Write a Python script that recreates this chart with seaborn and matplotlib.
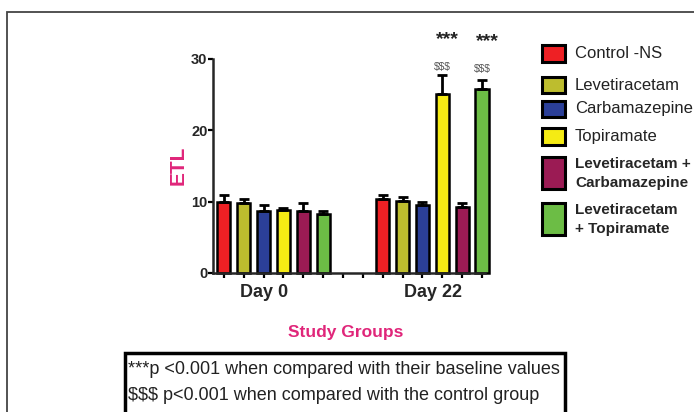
import pandas as pd
import seaborn as sns
import matplotlib.pyplot as plt
from matplotlib.patches import Rectangle

# Groups, colours and values (mean ETL and SEM)
groups = ['Control -NS', 'Levetiracetam', 'Carbamazepine', 'Topiramate',
          'Levetiracetam +\nCarbamazepine', 'Levetiracetam\n+ Topiramate']
colors = ['#EE2024', '#BDBD2E', '#2B3F98', '#F5EB14', '#9B1B54', '#6CBD45']
day0_mean = [9.9, 9.8, 8.7, 8.9, 8.7, 8.3]
day0_sem = [1.1, 0.55, 0.9, 0.25, 1.1, 0.45]
day22_mean = [10.4, 10.1, 9.6, 25.1, 9.3, 25.8]
day22_sem = [0.6, 0.5, 0.3, 2.6, 0.55, 1.2]
day_labels = ['Day 0', 'Day 22']

# slot order on the x axis: 6 bars, 2 empty slots, 6 bars
slots0 = ['d0_%d' % i for i in range(6)]
slots22 = ['d22_%d' % i for i in range(6)]
order = slots0 + ['gap1', 'gap2'] + slots22

df = pd.DataFrame({
    'slot': slots0 + slots22,
    'group': groups + groups,
    'etl': day0_mean + day22_mean,
    'sem': day0_sem + day22_sem,
})

sns.set_style('ticks')
plt.rcParams['font.family'] = ['Liberation Sans', 'DejaVu Sans']

W, H = 694, 412
fig = plt.figure(figsize=(W / 100, H / 100), dpi=100)
ax = fig.add_axes([213 / W, 1 - 273 / H, 272 / W, 214 / H])

sns.barplot(data=df, x='slot', y='etl', hue='group', order=order,
            hue_order=groups, palette=colors, dodge=False, legend=False,
            saturation=1, width=0.66, edgecolor='black', linewidth=1.8, ax=ax)
for p in ax.patches:
    p.set_clip_on(False)

xpos = [order.index(s) for s in df['slot']]
eb = ax.errorbar(xpos, df['etl'], yerr=[[0] * len(df), df['sem']], fmt='none',
                 ecolor='black', elinewidth=2, capsize=3.5, capthick=2, zorder=1)
for art in eb.get_children():
    art.set_clip_on(False)

ax.set_xlim(-0.55, 13.15)
ax.set_ylim(0, 30)
ax.set_yticks([0, 10, 20, 30])
ax.set_xticks(range(len(order)))
ax.set_xticklabels([''] * len(order))
ax.set_xlabel('')
ax.set_ylabel('')
for s in ['top', 'right']:
    ax.spines[s].set_visible(False)
for s in ['left', 'bottom']:
    ax.spines[s].set_linewidth(1.8)
ax.tick_params(axis='both', length=3.5, width=1.6, pad=0.5, color='black')
for lab in ax.get_yticklabels():
    lab.set_fontweight('bold')
    lab.set_fontsize(10.5)

# group labels below axis
ax.text(2, -2.7, day_labels[0], ha='center', va='center', fontsize=13,
        fontweight='bold')
ax.text(10.55, -2.7, day_labels[1], ha='center', va='center', fontsize=13,
        fontweight='bold')

# significance marks
for i, (ys, yd) in zip([3, 5], [(32.7, 28.9), (32.4, 28.6)]):
    x = order.index(slots22[i])
    ax.text(x + 0.25, ys, '***', ha='center', va='center', fontsize=14,
            fontweight='bold', color='#222222', clip_on=False)
    ax.text(x, yd, '$$$', ha='center', va='center', fontsize=7.5,
            color='#555555', clip_on=False)

pink = '#E0267A'
fig.text(178 / W, 1 - 165 / H, 'ETL', rotation=90, ha='center', va='center',
         fontsize=15, fontweight='bold', color=pink)
fig.text(346 / W, 1 - 333 / H, 'Study Groups', ha='center', va='center',
         fontsize=12.5, fontweight='bold', color=pink)


def px_rect(x0, y0, x1, y1, **kw):
    return Rectangle((x0 / W, 1 - y1 / H), (x1 - x0) / W, (y1 - y0) / H,
                     transform=fig.transFigure, **kw)


# legend drawn by hand: small boxes for single entries, tall ones for combos
legend_boxes = [(45, 62), (77, 93), (101, 117), (128, 145), (157, 189), (203, 235)]
for (y0, y1), name, c in zip(legend_boxes, groups, colors):
    fig.add_artist(px_rect(542, y0, 565, y1, facecolor=c, edgecolor='black',
                           linewidth=2.2))
    yc = (y0 + y1) / 2
    if '\n' in name:
        l1, l2 = name.split('\n')
        fig.text(575 / W, 1 - (yc - 9) / H, l1, ha='left', va='center',
                 fontsize=11, fontweight='bold')
        fig.text(575 / W, 1 - (yc + 10) / H, l2, ha='left', va='center',
                 fontsize=11, fontweight='bold')
    else:
        fig.text(575 / W, 1 - yc / H, name, ha='left', va='center',
                 fontsize=12, color='#222222')

# footnote box
fig.add_artist(px_rect(125, 353, 565, 420, facecolor='none', edgecolor='black',
                       linewidth=2.5))
fig.text(128 / W, 1 - 369 / H, '***p <0.001 when compared with their baseline values',
         ha='left', va='center', fontsize=13, color='#222222')
fig.text(128 / W, 1 - 395 / H, '$$$ p<0.001 when compared with the control group',
         ha='left', va='center', fontsize=13, color='#222222')

# outer frame
fig.add_artist(px_rect(7, 12, 720, 440, facecolor='none', edgecolor='#444444',
                       linewidth=1.3))

fig.savefig('out.png', dpi=100)
